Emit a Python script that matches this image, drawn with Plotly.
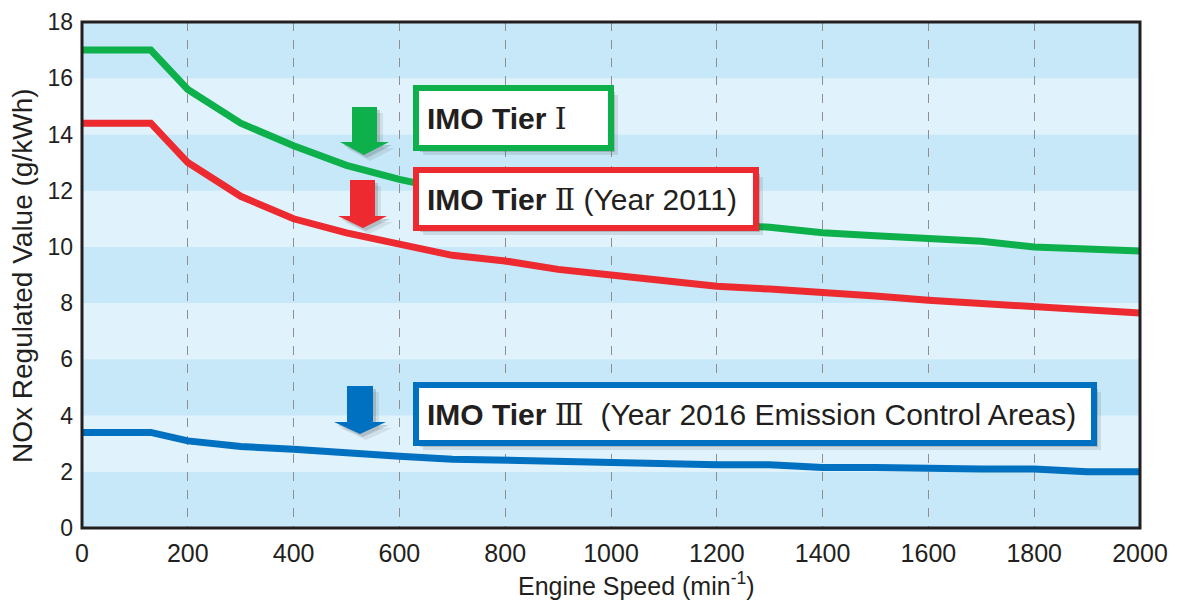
import plotly.graph_objects as go

# ---------------- data ----------------
speed = [0, 130, 200, 300, 400, 500, 600, 700, 800, 900, 1000,
         1100, 1200, 1300, 1400, 1500, 1600, 1700, 1800, 1900, 2000]
tier1 = [17.0, 17.0, 15.6, 14.4, 13.6, 12.9, 12.4, 12.0, 11.7, 11.4, 11.2,
         11.0, 10.8, 10.7, 10.5, 10.4, 10.3, 10.2, 10.0, 9.9, 9.85]
tier2 = [14.4, 14.4, 13.0, 11.8, 11.0, 10.5, 10.1, 9.7, 9.5, 9.2, 9.0,
         8.8, 8.6, 8.5, 8.4, 8.25, 8.1, 8.0, 7.85, 7.8, 7.65]
tier3 = [3.4, 3.4, 3.1, 2.9, 2.8, 2.65, 2.55, 2.45, 2.4, 2.35, 2.35,
         2.3, 2.25, 2.25, 2.15, 2.15, 2.1, 2.1, 2.1, 2.0, 2.0]

x_ticks = list(range(0, 2001, 200))
y_ticks = list(range(0, 19, 2))

NUM = "<span style=\"font-family:'DejaVu Serif'\">%s</span>"
labels = ["<b>IMO Tier</b> " + NUM % "Ⅰ",
          "<b>IMO Tier</b> " + NUM % "Ⅱ" + " (Year 2011)",
          "<b>IMO Tier</b> " + NUM % "Ⅲ" + "  (Year 2016 Emission Control Areas)"]

GREEN = "#0db04b"
RED = "#ec2a30"
BLUE = "#0070c0"
TXT = "#231f20"
BAND_DARK = "#c6e8f8"
BAND_LIGHT = "#e0f2fc"

W, H = 1178, 600
ML, MR, MT, MB = 82, 38, 22, 72
PW, PH = W - ML - MR, H - MT - MB


def px(xp):
    # reference-image pixel x -> paper coordinate
    return (xp - ML) / PW


def py(yp):
    # reference-image pixel y -> paper coordinate
    return (H - MB - yp) / PH


fig = go.Figure()

for vals, col in [(tier1, GREEN), (tier2, RED), (tier3, BLUE)]:
    fig.add_trace(go.Scatter(x=speed, y=vals, mode="lines",
                             line=dict(color=col, width=7),
                             showlegend=False, hoverinfo="skip"))

shapes = []
# horizontal bands
for i in range(len(y_ticks) - 1):
    shapes.append(dict(type="rect", xref="x domain", yref="y",
                       x0=0, x1=1, y0=y_ticks[i], y1=y_ticks[i + 1],
                       fillcolor=BAND_DARK if i % 2 == 0 else BAND_LIGHT,
                       line=dict(width=0), layer="below"))

# boxes (pixel placement of decorations)
boxes = [((416, 88, 611, 148), GREEN),
         ((416, 170, 756, 228), RED),
         ((416, 385, 1094, 443), BLUE)]
for (x0, y0, x1, y1), col in boxes:
    for off, op in [(7, 0.12), (4, 0.22)]:
        shapes.append(dict(type="rect", xref="paper", yref="paper",
                           x0=px(x0 + off), x1=px(x1 + off),
                           y0=py(y0 + off), y1=py(y1 + off),
                           fillcolor="rgba(60,60,60,%s)" % op,
                           line=dict(width=0), layer="above"))
    shapes.append(dict(type="rect", xref="paper", yref="paper",
                       x0=px(x0), x1=px(x1), y0=py(y0), y1=py(y1),
                       fillcolor="white", line=dict(color=col, width=6),
                       layer="above"))

# block arrows: (shaft_l, shaft_r, head_l, head_r, top, head_base, tip, tip_x)
arrows = [((352, 377, 340, 389, 107, 142, 155, 364), GREEN),
          ((350, 375, 338, 387, 180, 216, 228, 363), RED),
          ((347, 373, 334, 386, 386, 422, 434, 360), BLUE)]


def arrow_path(a, dx=0, dy=0):
    sl, sr, hl, hr, top, hb, tip, tx = a
    pts = [(sl, top), (sr, top), (sr, hb), (hr, hb), (tx, tip),
           (hl, hb), (sl, hb)]
    return "M " + " L ".join("%.5f,%.5f" % (px(x + dx), py(y + dy))
                             for x, y in pts) + " Z"


for a, col in arrows:
    for off, op in [(6, 0.10), (3, 0.20)]:
        shapes.append(dict(type="path", xref="paper", yref="paper",
                           path=arrow_path(a, off, off),
                           fillcolor="rgba(60,60,60,%s)" % op,
                           line=dict(width=0), layer="above"))
    shapes.append(dict(type="path", xref="paper", yref="paper",
                       path=arrow_path(a), fillcolor=col,
                       line=dict(width=0), layer="above"))

# plot frame
shapes.append(dict(type="rect", xref="paper", yref="paper",
                   x0=0, x1=1, y0=0, y1=1,
                   line=dict(color=TXT, width=3), layer="above"))

FONT = "Liberation Sans, Arial, Noto Sans CJK JP, sans-serif"

annotations = []
for lab, yp in zip(labels, [118, 199, 414]):
    annotations.append(dict(text=lab, xref="paper", yref="paper",
                            x=px(425), y=py(yp), xanchor="left",
                            yanchor="middle", showarrow=False,
                            font=dict(size=30, color=TXT, family=FONT)))

annotations.append(dict(text="Engine Speed (min<sup>-1</sup>)",
                        xref="paper", yref="paper", x=px(636), y=py(584),
                        xanchor="center", yanchor="middle", showarrow=False,
                        font=dict(size=25, color=TXT, family=FONT)))
annotations.append(dict(text="NOx Regulated Value (g/kWh)",
                        xref="paper", yref="paper", x=px(22), y=py(276),
                        xanchor="center", yanchor="middle", showarrow=False,
                        textangle=-90,
                        font=dict(size=28, color=TXT, family=FONT)))

fig.update_layout(
    width=W, height=H,
    margin=dict(l=ML, r=MR, t=MT, b=MB, autoexpand=False),
    paper_bgcolor="white", plot_bgcolor=BAND_LIGHT,
    shapes=shapes, annotations=annotations,
    font=dict(family=FONT, color=TXT, size=22),
    xaxis=dict(range=[0, 2000], tickvals=x_ticks, showgrid=True,
               gridcolor="#8f8f8f", griddash="dash", gridwidth=1,
               zeroline=False, showline=False, ticks="", automargin=False,
               ticklabelstandoff=8,
               tickfont=dict(size=25, color=TXT, family=FONT)),
    yaxis=dict(range=[0, 18], tickvals=y_ticks, showgrid=False,
               zeroline=False, showline=False, ticks="", automargin=False,
               ticklabelstandoff=8,
               tickfont=dict(size=23, color=TXT, family=FONT)),
)

fig.write_html("out.html",
               config={"displayModeBar": False, "staticPlot": True},
               post_script="document.body.style.margin='0px';"
                           "document.body.style.overflow='hidden';")
